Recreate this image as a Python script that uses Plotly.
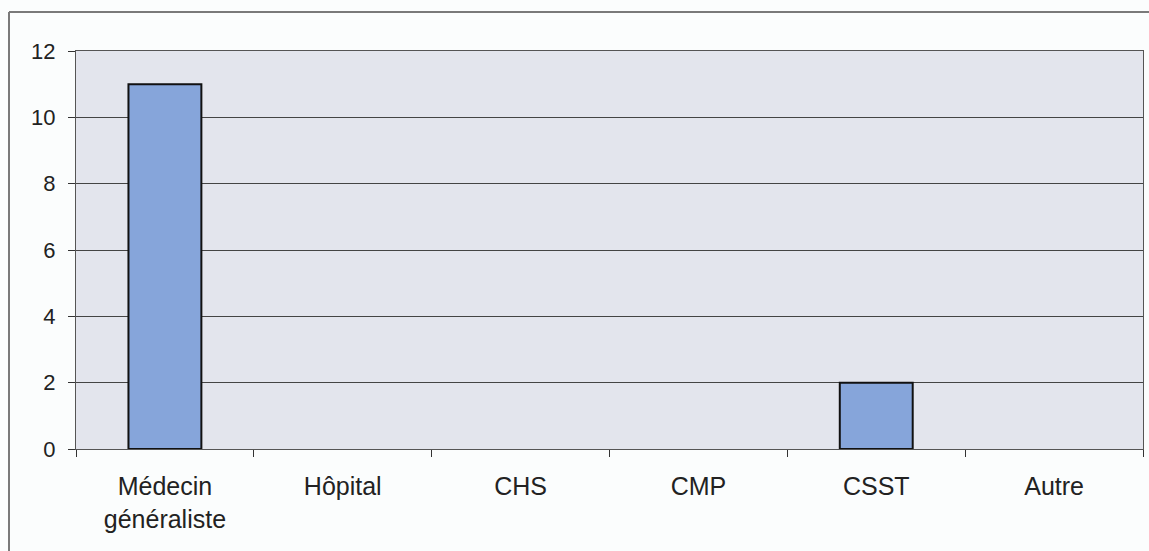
import plotly.graph_objects as go

categories = ["Médecin<br>généraliste", "Hôpital", "CHS", "CMP", "CSST", "Autre"]
values = [11, 0, 0, 0, 2, 0]
y_ticks = [0, 2, 4, 6, 8, 10, 12]

fig = go.Figure()
fig.add_trace(go.Bar(
    x=categories, y=values,
    marker=dict(color="#86a5da",
                line=dict(color="#111111", width=[2 if v > 0 else 0 for v in values])),
    width=0.41,
))

W, H = 1149, 551
L, R, T, B = 76, 6, 51, 102
pw, ph = W - L - R, H - T - B

fx0 = (9 - L) / pw
fy1 = 1 + (T - 12) / ph
fy0 = -(B + 10) / ph
fx1 = (W + 20 - L) / pw

fig.update_layout(
    width=W, height=H,
    margin=dict(l=L, r=R, t=T, b=B, autoexpand=False),
    paper_bgcolor="#fbfdfd",
    plot_bgcolor="#e3e5ed",
    showlegend=False,
    font=dict(family="Liberation Sans, Arial, sans-serif", size=24, color="#222222"),
    xaxis=dict(
        type="category",
        automargin=False,
        tickson="boundaries",
        ticks="outside", ticklen=7, tickcolor="#333333",
        showline=True, linecolor="#555555", linewidth=1, mirror=True,
        showgrid=False,
        tickfont=dict(size=25),
        ticklabelstandoff=15,
    ),
    yaxis=dict(
        automargin=False,
        range=[0, 12], tickvals=y_ticks,
        ticks="outside", ticklen=7, tickcolor="#333333",
        showline=True, linecolor="#555555", linewidth=1, mirror=True,
        showgrid=True, gridcolor="#444444", gridwidth=1,
        zeroline=False,
        tickfont=dict(size=22),
        ticklabelstandoff=8,
    ),
    shapes=[
        dict(type="line", xref="paper", yref="paper",
             x0=fx0, x1=fx0, y0=fy0, y1=fy1,
             line=dict(color="#7a7a7a", width=2), layer="below"),
        dict(type="line", xref="paper", yref="paper",
             x0=fx0, x1=fx1, y0=fy1, y1=fy1,
             line=dict(color="#7a7a7a", width=2), layer="below"),
    ],
)

fig.write_html(
    "out.html",
    config={"displayModeBar": False},
    post_script="document.body.style.margin='0';document.body.style.overflow='hidden';",
)
